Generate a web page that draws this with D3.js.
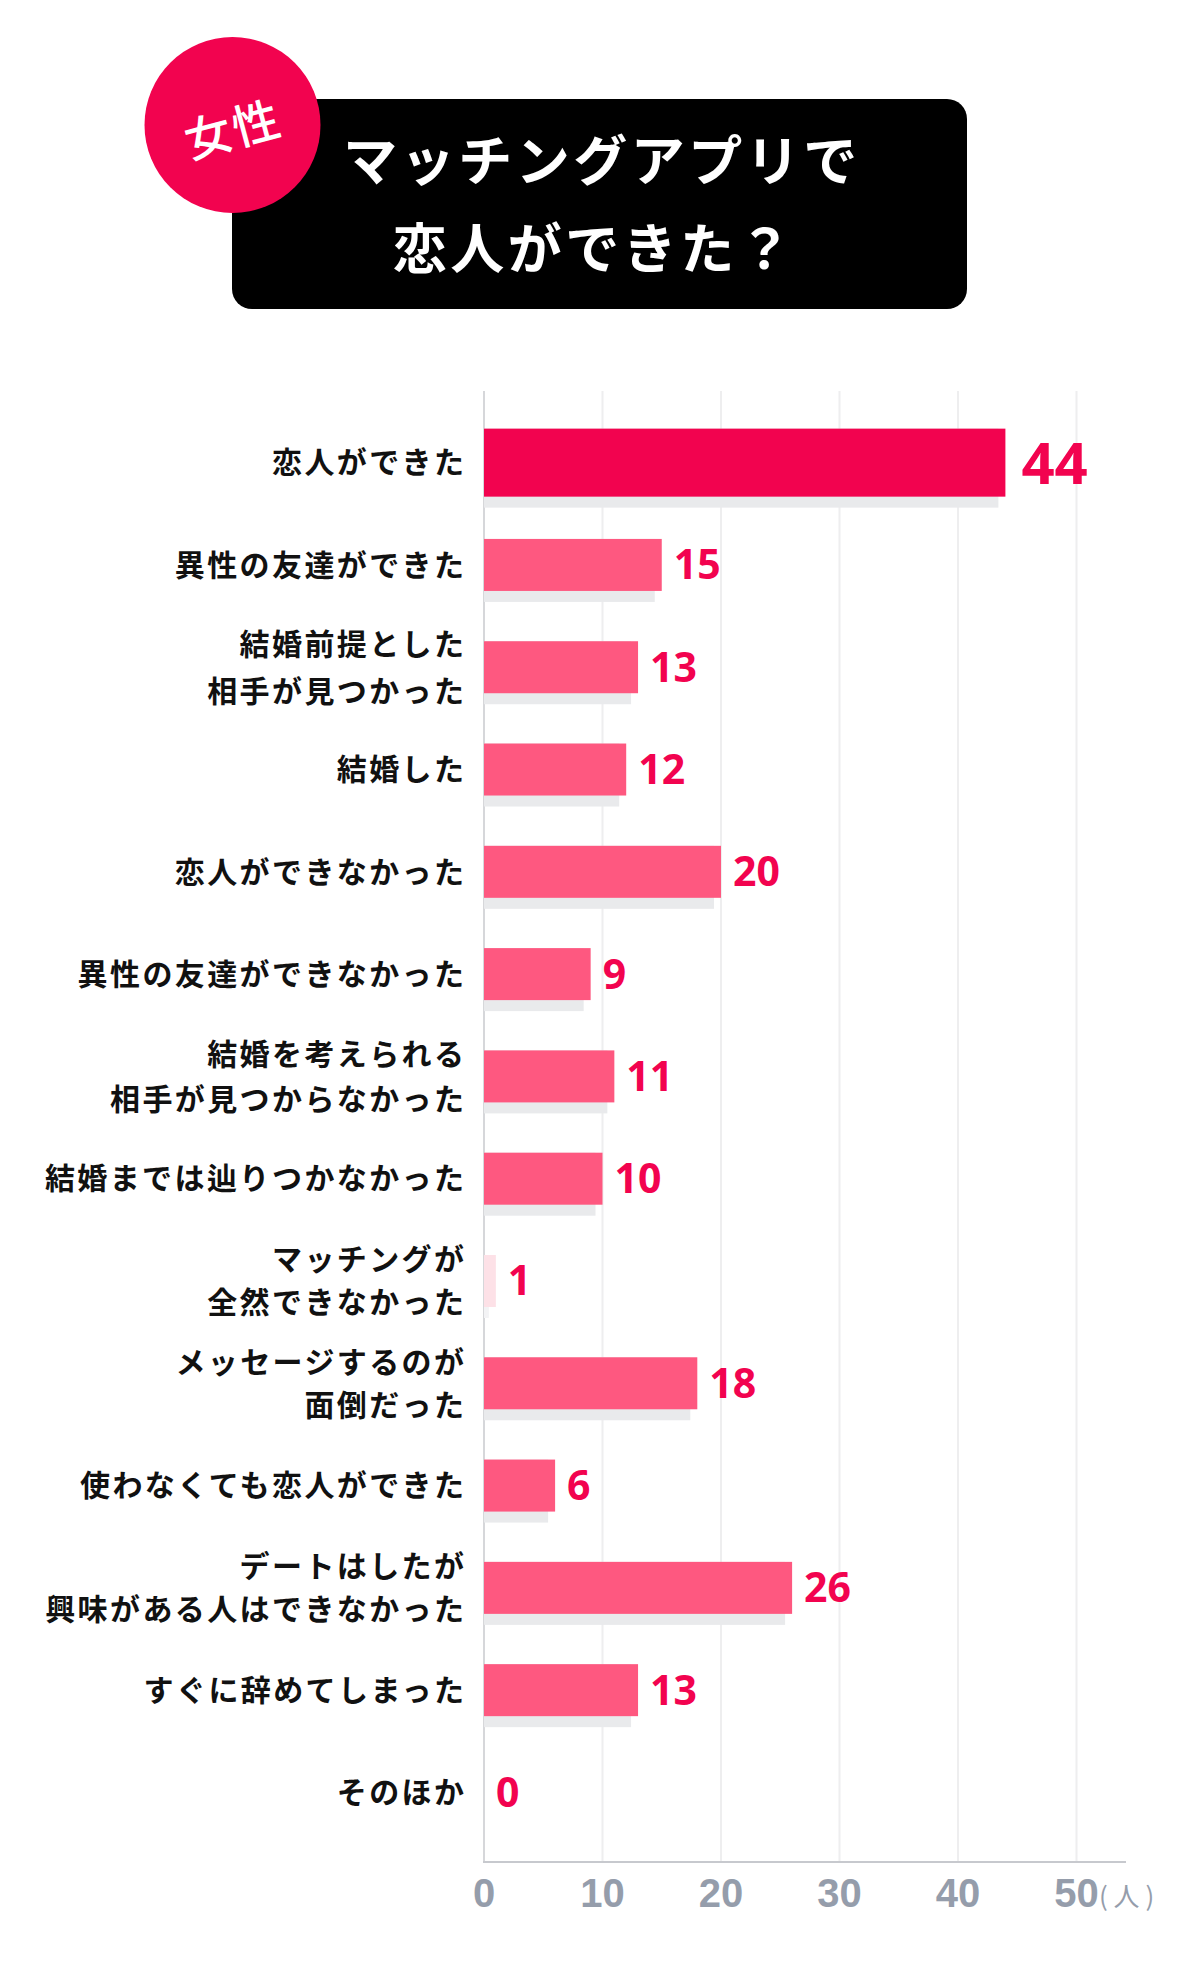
<!DOCTYPE html>
<html>
<head>
<meta charset="utf-8">
<script src="https://cdn.jsdelivr.net/npm/d3@7"></script>
<style>
  html, body { margin: 0; padding: 0; background: #ffffff; }
  svg { display: block; }
</style>
</head>
<body>
<div id="chart"></div>
<script>
// ---------- data ----------
const categories = [
  "恋人ができた",
  "異性の友達ができた",
  "結婚前提とした\n相手が見つかった",
  "結婚した",
  "恋人ができなかった",
  "異性の友達ができなかった",
  "結婚を考えられる\n相手が見つからなかった",
  "結婚までは辿りつかなかった",
  "マッチングが\n全然できなかった",
  "メッセージするのが\n面倒だった",
  "使わなくても恋人ができた",
  "デートはしたが\n興味がある人はできなかった",
  "すぐに辞めてしまった",
  "そのほか"
];
const values = [44, 15, 13, 12, 20, 9, 11, 10, 1, 18, 6, 26, 13, 0];
const tickValues = [0, 10, 20, 30, 40, 50];
const titleLines = ["マッチングアプリで", "恋人ができた？"];
const badgeText = "女性";
const unitText = "( 人 )";

// ---------- layout ----------
const W = 1200, H = 1976;
const red = "#f2034f", pink = "#fe5880", paleRed = "#fde1e7", shadow = "#e9eaec";
const jp = "'Noto Sans CJK JP', 'Noto Sans', sans-serif";
const lineGaps = {2: 47, 6: 45, 8: 43, 9: 43, 11: 43};

const svg = d3.select("#chart").append("svg")
  .attr("width", W).attr("height", H);

// ---------- title ----------
svg.append("rect")
  .attr("x", 232).attr("y", 99).attr("width", 735).attr("height", 210)
  .attr("rx", 20).attr("ry", 20).attr("fill", "#000");
svg.append("g").selectAll("text").data(titleLines).join("text")
  .attr("x", (d, i) => [602, 594][i])
  .attr("y", (d, i) => [181, 269][i])
  .attr("text-anchor", "middle")
  .attr("fill", "#fff")
  .attr("font-family", jp)
  .attr("font-weight", 700)
  .attr("font-size", 54)
  .attr("letter-spacing", 3.5)
  .text(d => d);
svg.append("ellipse")
  .attr("cx", 232.5).attr("cy", 125).attr("rx", 88).attr("ry", 88)
  .attr("fill", red);
svg.append("text")
  .attr("transform", "translate(233,130) rotate(-15)")
  .attr("text-anchor", "middle")
  .attr("dy", "0.36em")
  .attr("fill", "#fff")
  .attr("font-family", jp)
  .attr("font-weight", 500)
  .attr("font-size", 47)
  .attr("letter-spacing", 2)
  .text(badgeText);

// ---------- scales ----------
const x = d3.scaleLinear().domain([0, 50]).range([484, 1076.5]);
const y = d3.scaleBand().domain(d3.range(categories.length)).range([411.5, 1843.6]).padding(0);
const yc = i => y(i) + y.bandwidth() / 2;
const barH = i => i === 0 ? 68 : 52;

const plotTop = 391, plotBottom = 1862;

// gridlines
svg.append("g").selectAll("line").data(tickValues.filter(t => t > 0)).join("line")
  .attr("x1", d => x(d)).attr("x2", d => x(d))
  .attr("y1", plotTop).attr("y2", plotBottom)
  .attr("stroke", "#eeeeef").attr("stroke-width", 2);

// axis lines
svg.append("line")
  .attr("x1", x(0)).attr("x2", x(0)).attr("y1", plotTop).attr("y2", plotBottom)
  .attr("stroke", "#d6d7da").attr("stroke-width", 2);
svg.append("line")
  .attr("x1", x(0) - 1).attr("x2", 1126).attr("y1", plotBottom).attr("y2", plotBottom)
  .attr("stroke", "#c7c9ce").attr("stroke-width", 2);

// shadows
const idx = d3.range(values.length);
svg.append("g").selectAll("rect").data(idx.filter(i => values[i] > 0)).join("rect")
  .attr("x", x(0))
  .attr("y", i => yc(i) - barH(i) / 2)
  .attr("width", i => Math.max(0, x(values[i]) - x(0) - 7))
  .attr("height", i => barH(i) + 11)
  .attr("fill", i => values[i] <= 1 ? "#f3f3f5" : shadow);

// bars
svg.append("g").selectAll("rect").data(idx).join("rect")
  .attr("x", x(0))
  .attr("y", i => yc(i) - barH(i) / 2)
  .attr("width", i => x(values[i]) - x(0))
  .attr("height", i => barH(i))
  .attr("fill", i => i === 0 ? red : (values[i] <= 1 ? paleRed : pink));

// value labels
svg.append("g").selectAll("text").data(idx).join("text")
  .attr("x", i => x(values[i]) + (i === 0 ? 16 : 12))
  .attr("y", i => yc(i) + (i === 0 ? 21 : 14.5))
  .attr("fill", red)
  .attr("font-family", "'Noto Sans', 'Open Sans', sans-serif")
  .attr("font-weight", 700)
  .attr("font-size", i => i === 0 ? 58 : 41)
  .text(i => values[i]);

// category labels
const labG = svg.append("g");
idx.forEach(i => {
  const lines = categories[i].split("\n");
  const gap = lineGaps[i] || 42;
  const t = labG.append("text")
    .attr("text-anchor", "end")
    .attr("fill", "#111")
    .attr("font-family", jp)
    .attr("font-weight", 700)
    .attr("font-size", 30)
    .attr("letter-spacing", 2.4);
  lines.forEach((ln, k) => {
    const off = (k - (lines.length - 1) / 2) * gap;
    t.append("tspan")
      .attr("x", 464 + 2.4)
      .attr("y", yc(i) + off)
      .attr("dy", "0.36em")
      .text(ln);
  });
});

// x tick labels
svg.append("g").selectAll("text").data(tickValues).join("text")
  .attr("x", d => x(d))
  .attr("y", 1907)
  .attr("text-anchor", "middle")
  .attr("fill", "#959dab")
  .attr("font-family", "'Liberation Sans', Arial, sans-serif")
  .attr("font-weight", 700)
  .attr("font-size", 40)
  .text(d => d);
svg.append("text")
  .attr("x", 1099).attr("y", 1906)
  .attr("fill", "#959dab")
  .attr("font-family", jp)
  .attr("font-weight", 400)
  .attr("font-size", 26)
  .text(unitText);
</script>
</body>
</html>
